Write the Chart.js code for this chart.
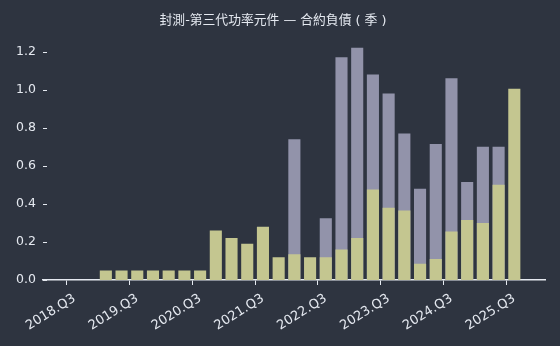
<!DOCTYPE html>
<html>
<head>
<meta charset="utf-8">
<script src="https://cdn.jsdelivr.net/npm/chart.js@4/dist/chart.umd.min.js"></script>
<style>
  html, body { margin: 0; padding: 0; background: #2e3440; }
  #wrap { width: 560px; height: 346px; }
</style>
</head>
<body>
<div id="wrap"><canvas id="myChart"></canvas></div>
<script>
// trimestres (2018.Q1 .. 2026.Q1), los últimos sólo dan el ancho del eje
const trimestres = [
  '2018.Q1','2018.Q2','2018.Q3','2018.Q4',
  '2019.Q1','2019.Q2','2019.Q3','2019.Q4',
  '2020.Q1','2020.Q2','2020.Q3','2020.Q4',
  '2021.Q1','2021.Q2','2021.Q3','2021.Q4',
  '2022.Q1','2022.Q2','2022.Q3','2022.Q4',
  '2023.Q1','2023.Q2','2023.Q3','2023.Q4',
  '2024.Q1','2024.Q2','2024.Q3','2024.Q4',
  '2025.Q1','2025.Q2','2025.Q3','2025.Q4',
  '2026.Q1'
];

// barra inferior (verde)
const serieBase = [
  null, null, null, null,
  0.05, 0.05, 0.05, 0.05,
  0.05, 0.05, 0.05, 0.26,
  0.22, 0.19, 0.28, 0.12,
  0.135, 0.12, 0.12, 0.16,
  0.22, 0.475, 0.38, 0.365,
  0.085, 0.11, 0.255, 0.315,
  0.30, 0.50, 1.005, null,
  null
];

// barra total (lavanda, detrás)
const serieTotal = [
  null, null, null, null,
  null, null, null, null,
  null, null, null, null,
  null, null, null, null,
  0.74, null, 0.325, 1.17,
  1.22, 1.08, 0.98, 0.77,
  0.48, 0.715, 1.06, 0.515,
  0.70, 0.70, null, null,
  null
];

const ticksY = [0, 0.2, 0.4, 0.6, 0.8, 1.0, 1.2];
const titulo = '封測-第三代功率元件 — 合約負債 ( 季 )';

const colorTexto = '#e5e9f0';
const fuente = "'DejaVu Sans', 'Noto Sans CJK TC', sans-serif";

const esQ3 = (i) => trimestres[i] && trimestres[i].endsWith('Q3');

// marcas cortas del eje Y hacia dentro
const marcasY = {
  id: 'marcasY',
  afterDraw(chart) {
    const ctx = chart.ctx;
    const y = chart.scales.y;
    const left = chart.chartArea.left;
    ctx.save();
    ctx.strokeStyle = colorTexto;
    ctx.lineWidth = 1;
    ticksY.forEach(v => {
      const py = Math.round(y.getPixelForValue(v)) + 0.5;
      ctx.beginPath();
      ctx.moveTo(left, py);
      ctx.lineTo(left + 4, py);
      ctx.stroke();
    });
    ctx.restore();
  }
};

new Chart(document.getElementById('myChart'), {
  type: 'bar',
  data: {
    labels: trimestres,
    datasets: [
      {
        label: 'base',
        data: serieBase,
        backgroundColor: '#c4c690',
        order: 0
      },
      {
        label: 'total',
        data: serieTotal,
        backgroundColor: '#9293aa',
        order: 1
      }
    ]
  },
  options: {
    responsive: true,
    maintainAspectRatio: false,
    animation: false,
    grouped: false,
    barPercentage: 0.77,
    categoryPercentage: 1.0,
    layout: { padding: { left: 0, right: 14, top: 0, bottom: 0 } },
    plugins: {
      legend: { display: false },
      tooltip: { enabled: false },
      title: {
        display: true,
        text: titulo,
        color: colorTexto,
        font: { family: fuente, size: 12.8, weight: 'normal', lineHeight: 1.2 },
        padding: { top: 13, bottom: 8 }
      }
    },
    scales: {
      x: {
        offset: false,
        border: { display: true, color: colorTexto, width: 1.5 },
        grid: {
          drawOnChartArea: false,
          drawTicks: true,
          tickLength: 5,
          color: (c) => esQ3(c.index) ? colorTexto : 'rgba(0,0,0,0)'
        },
        ticks: {
          autoSkip: false,
          maxRotation: 32,
          minRotation: 32,
          padding: 6,
          color: colorTexto,
          font: { family: fuente, size: 13 },
          callback: function(value, i) {
            return esQ3(i) ? trimestres[i] : '';
          }
        },
        afterFit: (scale) => { scale.height = 66; }
      },
      y: {
        min: 0,
        max: 1.28,
        border: { display: false },
        grid: { display: false, drawTicks: false },
        afterBuildTicks: (scale) => {
          scale.ticks = ticksY.map(v => ({ value: v }));
        },
        ticks: {
          padding: 7,
          color: colorTexto,
          font: { family: fuente, size: 12.5 },
          callback: (value) => value.toFixed(1)
        },
        afterFit: (scale) => { scale.width = 43; }
      }
    }
  },
  plugins: [marcasY]
});
</script>
</body>
</html>
